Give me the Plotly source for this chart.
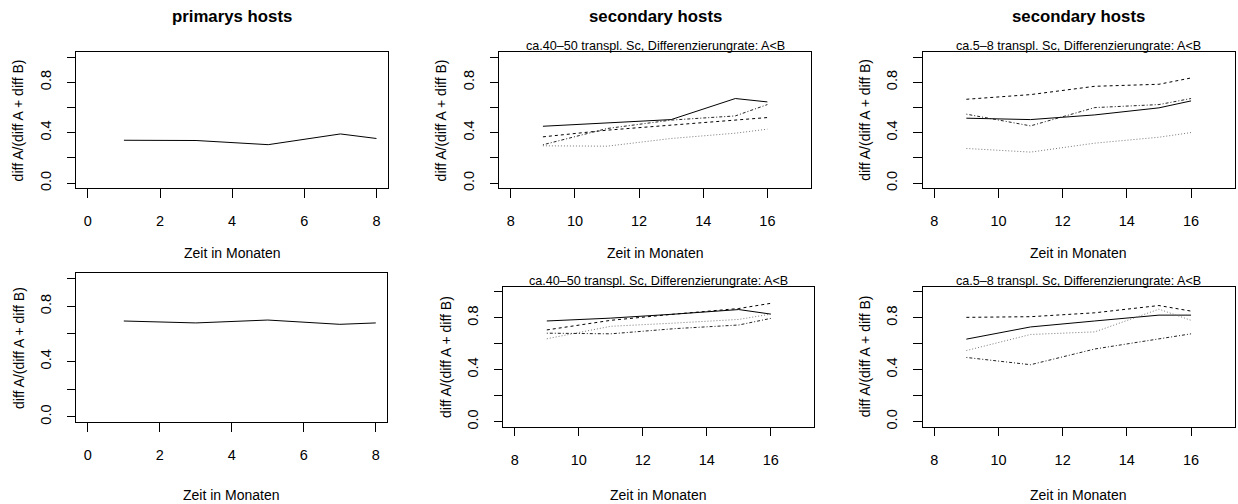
import plotly.graph_objects as go

# ---------------- data ----------------
months_primary = [1, 3, 5, 7, 8]
months_secondary = [9, 11, 13, 15, 16]

# top row
p1_primary = [0.34, 0.338, 0.305, 0.39, 0.354]
p2_solid = [0.451, 0.478, 0.504, 0.671, 0.644]
p2_dashed = [0.367, 0.42, 0.46, 0.50, 0.52]
p2_dotted = [0.296, 0.293, 0.354, 0.396, 0.428]
p2_dotdash = [0.304, 0.433, 0.50, 0.533, 0.623]
p3_solid = [0.515, 0.504, 0.541, 0.597, 0.652]
p3_dashed = [0.665, 0.702, 0.768, 0.784, 0.834]
p3_dotted = [0.275, 0.246, 0.317, 0.364, 0.401]
p3_dotdash = [0.547, 0.454, 0.599, 0.623, 0.671]

# bottom row
p4_primary = [0.693, 0.679, 0.700, 0.669, 0.679]
p5_solid = [0.775, 0.797, 0.828, 0.863, 0.828]
p5_dashed = [0.706, 0.78, 0.828, 0.871, 0.911]
p5_dotted = [0.638, 0.734, 0.759, 0.787, 0.828]
p5_dotdash = [0.681, 0.676, 0.716, 0.744, 0.795]
p6_solid = [0.635, 0.729, 0.775, 0.82, 0.82]
p6_dashed = [0.803, 0.808, 0.838, 0.894, 0.851]
p6_dotted = [0.547, 0.671, 0.691, 0.866, 0.78]
p6_dotdash = [0.494, 0.438, 0.559, 0.64, 0.676]

y_ticks = [0, 0.2, 0.4, 0.6, 0.8, 1.0]
y_ticklabels = ["0.0", "", "0.4", "", "0.8", ""]
x_ticks_primary = [0, 2, 4, 6, 8]
x_ticks_secondary = [8, 10, 12, 14, 16]

main_titles = ["primarys hosts", "secondary hosts", "secondary hosts"]
sub_40_50 = "ca.40\u201350 transpl. Sc, Differenzierungrate: A<B"
sub_5_8 = "ca.5\u20138 transpl. Sc, Differenzierungrate: A<B"
x_title = "Zeit in Monaten"
y_title = "diff A/(diff A + diff B)"

# ---------------- layout geometry (pixels) ----------------
W, H = 1238, 504
FONT = "Liberation Sans, Arial, Helvetica, sans-serif"

# (left, right, top, bottom) of each plot box in pixels
boxes = [
    (76.3, 388.0, 52.3, 189.3),
    (499.3, 811.0, 52.3, 189.3),
    (922.7, 1234.7, 52.3, 189.3),
    (76.3, 387.3, 274.7, 424.8),
    (503.3, 814.3, 288.3, 429.3),
    (922.7, 1234.7, 288.3, 429.3),
]

def px(x):
    return x / W

def py(y):
    return 1 - y / H

fig = go.Figure()

styles = {
    "solid": dict(color="black", width=1, dash="solid"),
    "dashed": dict(color="black", width=1, dash="3px,3px"),
    "dotted": dict(color="#777777", width=1, dash="1px,2px"),
    "dotdash": dict(color="#222222", width=1, dash="1px,2px,3px,2px"),
}

panels = [
    [(months_primary, p1_primary, "solid")],
    [(months_secondary, p2_solid, "solid"), (months_secondary, p2_dashed, "dashed"),
     (months_secondary, p2_dotted, "dotted"), (months_secondary, p2_dotdash, "dotdash")],
    [(months_secondary, p3_solid, "solid"), (months_secondary, p3_dashed, "dashed"),
     (months_secondary, p3_dotted, "dotted"), (months_secondary, p3_dotdash, "dotdash")],
    [(months_primary, p4_primary, "solid")],
    [(months_secondary, p5_solid, "solid"), (months_secondary, p5_dashed, "dashed"),
     (months_secondary, p5_dotted, "dotted"), (months_secondary, p5_dotdash, "dotdash")],
    [(months_secondary, p6_solid, "solid"), (months_secondary, p6_dashed, "dashed"),
     (months_secondary, p6_dotted, "dotted"), (months_secondary, p6_dotdash, "dotdash")],
]

layout = dict(
    width=W, height=H,
    margin=dict(l=0, r=0, t=0, b=0),
    paper_bgcolor="white", plot_bgcolor="white",
    showlegend=False,
    font=dict(family=FONT, size=14, color="black"),
)

annotations = []
for i, (traces, box) in enumerate(zip(panels, boxes)):
    n = i + 1
    xa = "x" if n == 1 else f"x{n}"
    ya = "y" if n == 1 else f"y{n}"
    for xs, ys, st in traces:
        fig.add_trace(go.Scatter(x=xs, y=ys, mode="lines", line=styles[st],
                                 xaxis=xa, yaxis=ya, hoverinfo="skip"))
    l, r, t, b = box
    primary = n in (1, 4)
    xr = [-0.32, 8.32] if primary else [7.64, 17.36]
    xt = x_ticks_primary if primary else x_ticks_secondary
    common = dict(showgrid=False, zeroline=False, showline=True, linecolor="black",
                  linewidth=1, mirror=True, ticks="outside", ticklen=8.5,
                  tickwidth=1, tickcolor="black",
                  tickfont=dict(family=FONT, size=14.5, color="black"))
    layout[f"xaxis{'' if n == 1 else n}"] = dict(
        domain=[px(l), px(r)], range=xr, anchor=ya, tickmode="array",
        tickvals=xt, ticktext=[str(v) for v in xt], ticklabelstandoff=11, **common)
    layout[f"yaxis{'' if n == 1 else n}"] = dict(
        domain=[py(b), py(t)], range=[-0.04, 1.04], anchor=xa, tickmode="array",
        tickvals=y_ticks, ticktext=y_ticklabels, tickangle=-90,
        ticklabelstandoff=10, **common)
    cx = (l + r) / 2
    cy = (t + b) / 2
    # x axis title
    annotations.append(dict(text=x_title, x=px(cx), y=py(255 if n <= 3 else 497.5),
                            xref="paper", yref="paper", showarrow=False,
                            xanchor="center", yanchor="middle",
                            font=dict(family=FONT, size=14, color="black")))
    # y axis title
    annotations.append(dict(text=y_title, x=px(l - 58), y=py(cy), xref="paper",
                            yref="paper", showarrow=False, textangle=-90,
                            xanchor="center", yanchor="middle",
                            font=dict(family=FONT, size=14, color="black")))
    if n <= 3:
        annotations.append(dict(text="<b>" + main_titles[i] + "</b>", x=px(cx), y=py(17),
                                xref="paper", yref="paper", showarrow=False,
                                xanchor="center", yanchor="middle",
                                font=dict(family=FONT, size=16.8, color="black")))
    if n in (2, 3, 5, 6):
        sub = sub_40_50 if n in (2, 5) else sub_5_8
        sy = t - 6
        annotations.append(dict(text=sub, x=px(cx), y=py(sy), xref="paper",
                                yref="paper", showarrow=False, xanchor="center",
                                yanchor="middle",
                                font=dict(family=FONT, size=12.6, color="black")))

layout["annotations"] = annotations
fig.update_layout(**layout)
fig.write_html(
    "out.html",
    config={"displayModeBar": False},
    post_script="document.body.style.margin='0';document.body.style.overflow='hidden';",
)
